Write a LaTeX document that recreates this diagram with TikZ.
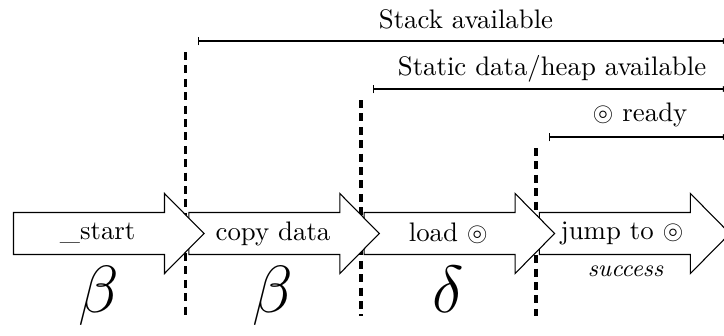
\documentclass[tikz,border=0pt]{standalone}
\usepackage{amssymb}
\usetikzlibrary{arrows.meta}
\tikzset{
  stage/.style={draw=black, fill=white, line width=0.4pt},
  sep/.style={densely dashed, line width=1.4pt},
  availrange/.style={line width=0.4pt, {Bar[width=3.3pt]}-{Latex[length=3pt]}},
  steplabel/.style={inner sep=0pt, font=\normalsize},
  rangelabel/.style={inner sep=0pt, anchor=base},
  cost/.style={inner sep=0pt, anchor=base, font=\Huge},
  flowarrow/.pic={\path[stage] (0,-21) -- (151,-21) -- (151,-40) -- (190.5,0) -- (151,40) -- (151,21) -- (0,21) -- cycle;}
}
\begin{document}
\begin{tikzpicture}[x=0.37313pt, y=-0.37313pt]
\useasboundingbox (0,0) rectangle (724,335);
% separators
\coordinate (d1t) at (185.6,52);  \coordinate (d1b) at (185.6,316);
\coordinate (d2t) at (360.9,100); \coordinate (d2b) at (360.9,316);
\coordinate (d3t) at (536.2,148); \coordinate (d3b) at (536.2,316);
\draw[sep] (d1t) -- (d1b);
\draw[sep] (d2t) -- (d2b);
\draw[sep] (d3t) -- (d3b);
% stage arrows (first on top)
\pic at (539.4,233.5) {flowarrow};
\pic at (364.1,233.5) {flowarrow};
\pic at (188.8,233.5) {flowarrow};
\pic at (13.5,233.5) {flowarrow};
% arrow texts
\node[steplabel] (t1) at (97.7,233.5) {\_start};
\node[steplabel] (t2) at (273,233.5) {copy data};
\node[steplabel] (t3) at (448.3,233.5) {load $\circledcirc$};
\node[steplabel] (t4) at (622,233.5) {jump to $\circledcirc$};
% costs
\node[cost] (c1) at (98.3,312) {$\beta$};
\node[cost] (c2) at (272.5,312) {$\beta$};
\node[cost] (c3) at (448,312) {$\delta$};
\node[inner sep=0pt, font=\small\itshape] (c4) at (625.5,271.7) {success};
% ranges
\coordinate (r1s) at (198,41);  \coordinate (r1e) at (731,41);
\coordinate (r2s) at (373,89);  \coordinate (r2e) at (731,89);
\coordinate (r3s) at (549,137); \coordinate (r3e) at (731,137);
\draw[availrange] (r1s) -- (r1e);
\draw[availrange] (r2s) -- (r2e);
\draw[availrange] (r3s) -- (r3e);
\node[rangelabel] (l1) at (466,28) {Stack available};
\node[rangelabel] (l2) at (552,75) {Static data/heap available};
\node[rangelabel] (l3) at (640,121) {$\circledcirc$ ready};
\end{tikzpicture}
\end{document}
